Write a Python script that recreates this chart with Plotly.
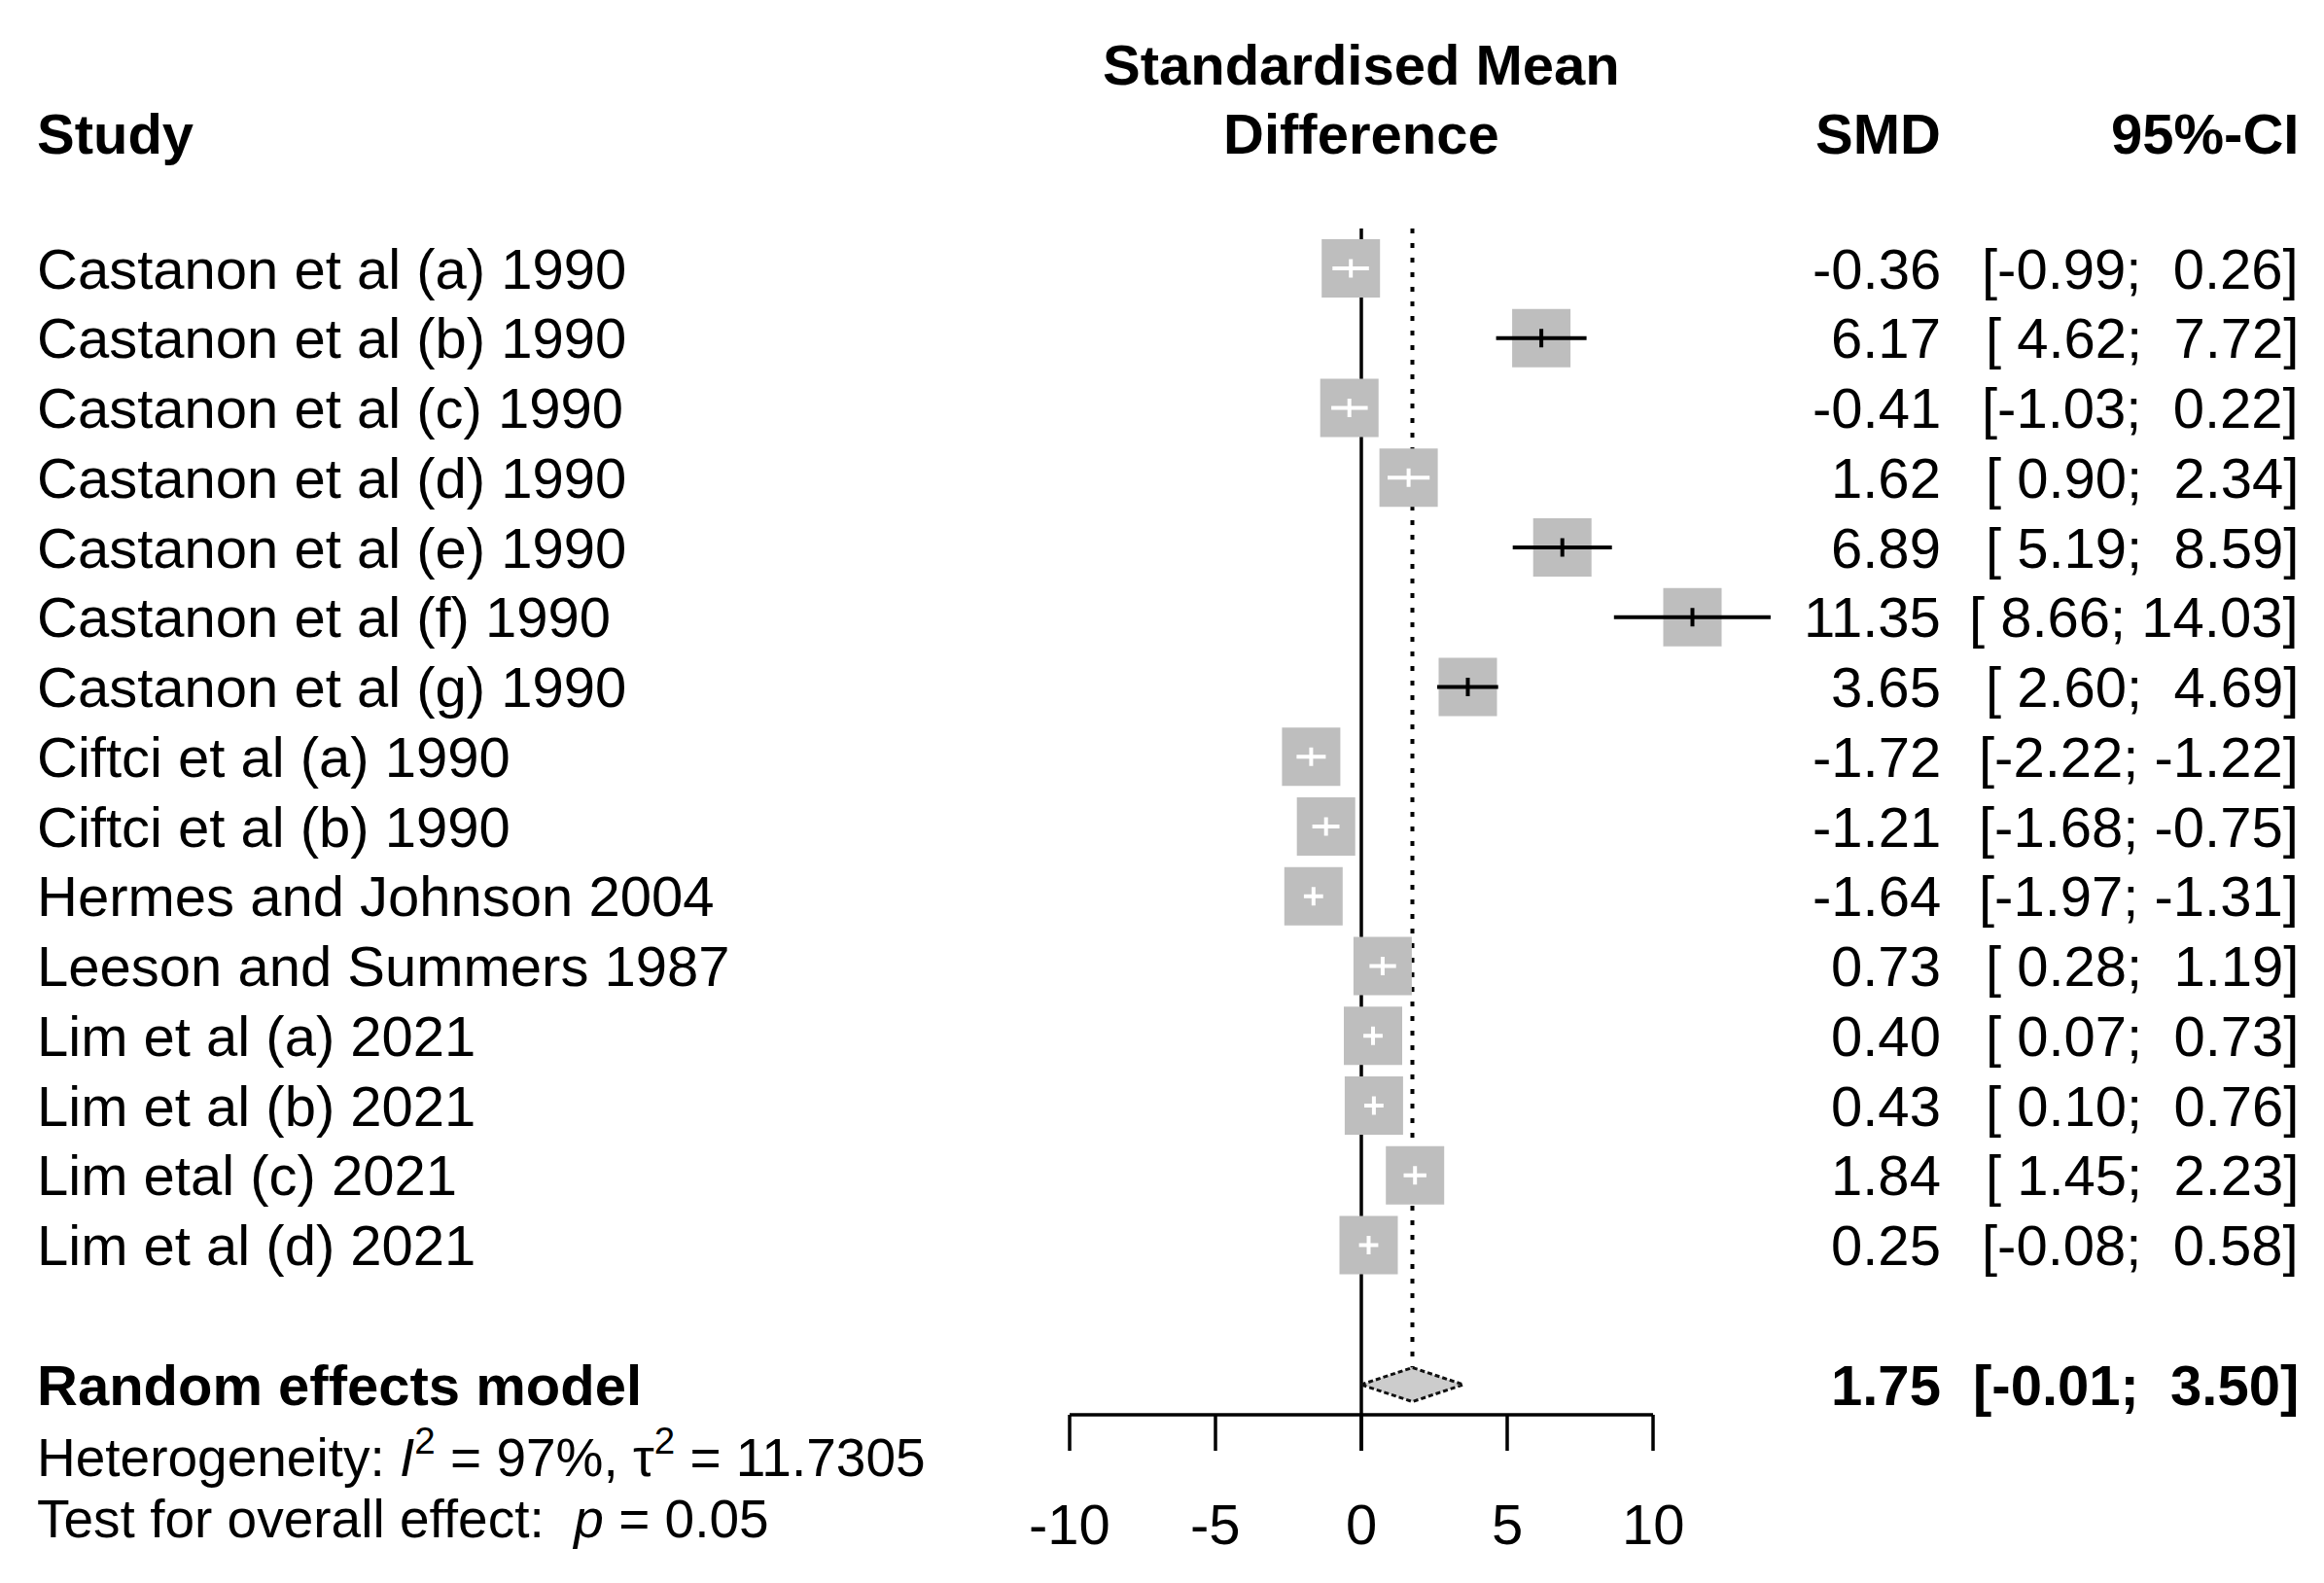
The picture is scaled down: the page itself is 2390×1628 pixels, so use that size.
import plotly.graph_objects as go

# study data
studies = [
    "Castanon et al (a) 1990", "Castanon et al (b) 1990", "Castanon et al (c) 1990",
    "Castanon et al (d) 1990", "Castanon et al (e) 1990", "Castanon et al (f) 1990",
    "Castanon et al (g) 1990", "Ciftci et al (a) 1990", "Ciftci et al (b) 1990",
    "Hermes and Johnson 2004", "Leeson and Summers 1987", "Lim et al (a) 2021",
    "Lim et al (b) 2021", "Lim etal (c) 2021", "Lim et al (d) 2021",
]
smd = [-0.36, 6.17, -0.41, 1.62, 6.89, 11.35, 3.65, -1.72, -1.21, -1.64, 0.73, 0.40, 0.43, 1.84, 0.25]
ci_lower = [-0.99, 4.62, -1.03, 0.90, 5.19, 8.66, 2.60, -2.22, -1.68, -1.97, 0.28, 0.07, 0.10, 1.45, -0.08]
ci_upper = [0.26, 7.72, 0.22, 2.34, 8.59, 14.03, 4.69, -1.22, -0.75, -1.31, 1.19, 0.73, 0.76, 2.23, 0.58]

# random effects summary
pooled = 1.75
pooled_lower = -0.01
pooled_upper = 3.50
i2 = "97%"
tau2 = "11.7305"
p_value = "0.05"

ticks = [-10, -5, 0, 5, 10]
null_value = 0

# layout in page pixels (the page body adds an 8px margin around the figure)
OFF = 8
W, H = 2390 - OFF, 1628 - OFF
ZERO_PX, UNIT_PX = 1400 - OFF, 30.0   # x pixel of 0 and pixels per SMD unit
ROW1_PX, ROW_PX = 276 - OFF, 71.75    # y pixel of first row and row spacing
FONT = "Arial, Liberation Sans, sans-serif"
FS = 58
BOX = 60                              # box side in px
BOX_COL = "#BEBEBE"

def row_of(px):
    # px given in page pixels
    return 1 + (px - OFF - ROW1_PX) / ROW_PX

rows = list(range(1, len(studies) + 1))
pooled_row = len(studies) + 2
top_row = row_of(235)
axis_row = row_of(1455)
tick_end = row_of(1492)
tick_lab_row = row_of(1567)
half_diamond = 17.5 / ROW_PX
half_tick = 9.5 / ROW_PX

def fmt(v):
    return f"{v:5.2f}".replace(" ", "\u00a0")

fig = go.Figure()

# line of no effect (runs on into the 0 tick)
fig.add_trace(go.Scatter(x=[null_value, null_value], y=[top_row, tick_end], mode="lines",
                         line=dict(color="black", width=3.5)))
# pooled estimate dotted line
fig.add_trace(go.Scatter(x=[pooled, pooled], y=[top_row, pooled_row - half_diamond], mode="lines",
                         line=dict(color="black", width=4, dash="5px,10px")))

# boxes
fig.add_trace(go.Scatter(x=smd, y=rows, mode="markers",
                         marker=dict(symbol="square", size=BOX, color=BOX_COL, line=dict(width=0))))

# confidence intervals: white when inside the box, black otherwise
half_box = BOX / 2 / UNIT_PX
for est, lo, hi, r in zip(smd, ci_lower, ci_upper, rows):
    inside = (est - lo) <= half_box and (hi - est) <= half_box
    col = "white" if inside else "black"
    fig.add_trace(go.Scatter(x=[lo, hi], y=[r, r], mode="lines", line=dict(color=col, width=4)))
    fig.add_trace(go.Scatter(x=[est, est], y=[r - half_tick, r + half_tick], mode="lines",
                             line=dict(color=col, width=4)))

# diamond for random effects model
fig.add_trace(go.Scatter(
    x=[pooled_lower, pooled, pooled_upper, pooled, pooled_lower],
    y=[pooled_row, pooled_row - half_diamond, pooled_row, pooled_row + half_diamond, pooled_row],
    mode="lines", fill="toself", fillcolor="#CCCCCC",
    line=dict(color="#111111", width=3, dash="5px,3px")))

# x axis drawn inside the panel
fig.add_trace(go.Scatter(x=[ticks[0], ticks[-1]], y=[axis_row, axis_row], mode="lines",
                         line=dict(color="black", width=3.5)))
for t in ticks:
    fig.add_trace(go.Scatter(x=[t, t], y=[axis_row, tick_end], mode="lines",
                             line=dict(color="black", width=3.5)))

ann = []

def text(x_px, r, s, anchor="left", bold=False, size=FS, xref="paper"):
    if bold:
        s = f"<b>{s}</b>"
    x = (x_px - OFF) / W if xref == "paper" else x_px
    ann.append(dict(x=x, xref=xref, y=r, yref="y", text=s, showarrow=False,
                    xanchor=anchor, yanchor="middle", font=dict(family=FONT, size=size, color="black")))

# tick labels on the data scale
for t in ticks:
    text(t, tick_lab_row, str(t), anchor="center", xref="x")

LEFT_PX, SMD_PX, CI_PX = 36, 1998, 2366
CENTER_PX = 1400

# headers
text(LEFT_PX, row_of(137), "Study", bold=True)
text(CENTER_PX, row_of(66), "Standardised Mean", anchor="center", bold=True)
text(CENTER_PX, row_of(137), "Difference", anchor="center", bold=True)
text(SMD_PX, row_of(137), "SMD", anchor="right", bold=True)
text(CI_PX, row_of(137), "95%-CI", anchor="right", bold=True)

# study rows
for name, est, lo, hi, r in zip(studies, smd, ci_lower, ci_upper, rows):
    text(LEFT_PX, r, name)
    text(SMD_PX, r, f"{est:.2f}", anchor="right")
    text(CI_PX, r, f"[{fmt(lo)};\u00a0{fmt(hi)}]", anchor="right")

# summary rows
text(LEFT_PX, pooled_row, "Random effects model", bold=True)
text(SMD_PX, pooled_row, f"{pooled:.2f}", anchor="right", bold=True)
text(CI_PX, pooled_row, f"[{fmt(pooled_lower)};\u00a0{fmt(pooled_upper)}]", anchor="right", bold=True)
text(LEFT_PX, row_of(1495), f"Heterogeneity: <i>I</i><sup>2</sup> = {i2}, τ<sup>2</sup> = {tau2}", size=55)
text(LEFT_PX, row_of(1562), f"Test for overall effect:\u00a0 <i>p</i> = {p_value}", size=55)

fig.update_layout(
    width=W, height=H,
    margin=dict(l=0, r=0, t=0, b=0),
    paper_bgcolor="white", plot_bgcolor="white",
    showlegend=False,
    annotations=ann,
    xaxis=dict(range=[-ZERO_PX / UNIT_PX, (W - ZERO_PX) / UNIT_PX], visible=False, fixedrange=True),
    yaxis=dict(range=[1 + (H - ROW1_PX) / ROW_PX, 1 - ROW1_PX / ROW_PX], visible=False, fixedrange=True),
    hovermode=False,
)

fig.write_html("out.html")
